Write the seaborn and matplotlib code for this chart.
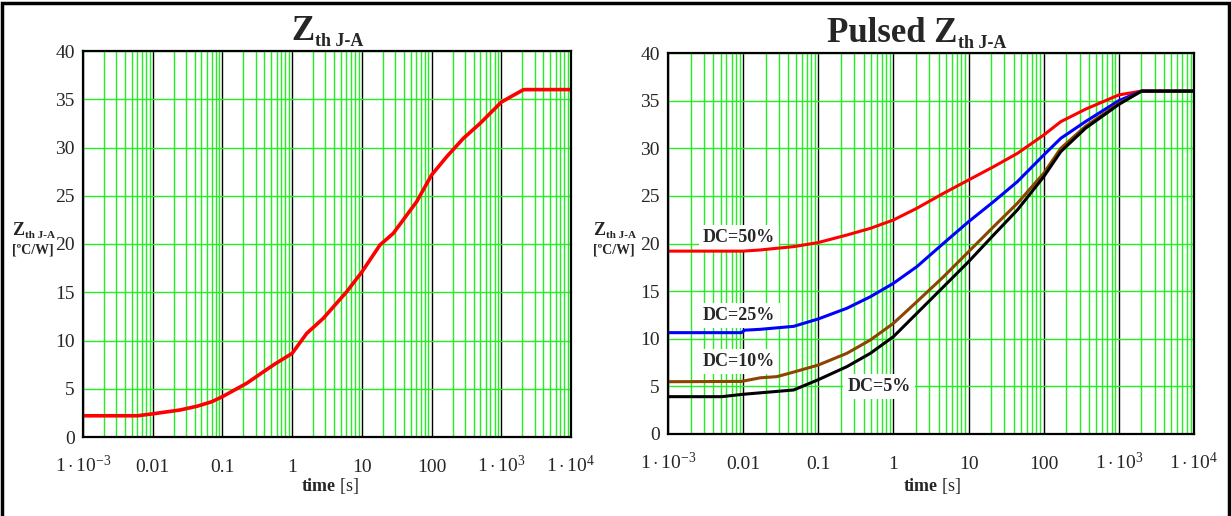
import matplotlib
matplotlib.use('Agg')
import matplotlib.pyplot as plt
from matplotlib.patches import Rectangle
import seaborn as sns
import pandas as pd
import numpy as np

# Zth J-A (single pulse), time in s, Zth in degC/W
t_single = [1e-3, 6e-3, 0.01, 0.0247, 0.044, 0.07, 0.1, 0.222, 0.537, 1, 1.62, 2.8, 6.07, 10,
            18.2, 28.2, 61.3, 100, 165, 286, 497, 1000, 1480, 2100, 1e4]
z_single = [2.2, 2.2, 2.4, 2.8, 3.2, 3.65, 4.18, 5.56, 7.46, 8.67, 10.74, 12.3, 15.06, 17.1,
            19.9, 21.1, 24.4, 27.15, 29.05, 30.95, 32.5, 34.7, 35.4, 36.0, 36.0]

# pulsed Zth J-A for each duty cycle
t_dc50 = [1e-3, 0.01, 0.0169, 0.0281, 0.0469, 0.1, 0.24, 0.493, 1, 2.05, 4.64, 10, 21.5, 44.6,
          100, 168.6, 360, 1000, 2000, 1e4]
z_dc50 = [19.2, 19.2, 19.32, 19.5, 19.67, 20.1, 20.89, 21.59, 22.47, 23.7, 25.27, 26.67, 28.06,
          29.46, 31.39, 32.79, 34.1, 35.6, 36.0, 36.0]

t_dc25 = [1e-3, 0.0095, 0.0105, 0.0169, 0.0469, 0.1, 0.24, 0.493, 1, 2.05, 4.64, 10, 21.5, 44.6,
          100, 168.6, 360, 1000, 2000, 1e4]
z_dc25 = [10.64, 10.64, 10.9, 10.99, 11.3, 12.08, 13.2, 14.41, 15.82, 17.57, 20.02, 22.29, 24.39,
          26.49, 29.29, 31.04, 32.8, 35.0, 36.0, 36.0]

t_dc10 = [1e-3, 0.0095, 0.0169, 0.0281, 0.0469, 0.1, 0.24, 0.493, 1, 2.05, 4.64, 10, 21.5, 44.6,
          100, 168.6, 360, 1000, 2000, 1e4]
z_dc10 = [5.49, 5.52, 5.9, 6.02, 6.5, 7.24, 8.47, 9.87, 11.62, 13.89, 16.51, 19.14, 21.76,
          24.22, 27.37, 29.99, 32.3, 34.7, 36.0, 36.0]

t_dc5 = [1e-3, 5.2e-3, 0.01, 0.0469, 0.1, 0.24, 0.493, 1, 2.05, 4.64, 10, 21.5, 44.6, 100,
         168.6, 360, 1000, 2000, 1e4]
z_dc5 = [3.92, 3.92, 4.17, 4.62, 5.7, 7.07, 8.47, 10.22, 12.67, 15.46, 18.09, 20.89, 23.52,
         27.01, 29.64, 32.1, 34.6, 36.0, 36.0]

dc_names = ['DC=50%', 'DC=25%', 'DC=10%', 'DC=5%']
dc_colors = ['#ff0000', '#0000ff', '#8b4500', '#000000']
# label anchor (time, Zth) for each duty cycle text
dc_label_t = [2.93e-3, 2.93e-3, 2.93e-3, 0.244]
dc_label_z = [20.19, 11.97, 7.14, 4.51]

decades = [1e-3, 1e-2, 1e-1, 1, 10, 100, 1e3, 1e4]
decade_labels = [r'$1\cdot10^{-3}$', '0.01', '0.1', '1', '10', '100',
                 r'$1\cdot10^{3}$', r'$1\cdot10^{4}$']
y_ticks = list(range(0, 41, 5))

sns.set_style('white')
plt.rcParams['font.family'] = ['Liberation Serif', 'DejaVu Serif']
plt.rcParams['mathtext.fontset'] = 'custom'
plt.rcParams['mathtext.rm'] = 'Liberation Serif'
plt.rcParams['mathtext.bf'] = 'Liberation Serif:bold'
plt.rcParams['mathtext.it'] = 'Liberation Serif:italic'

W, H = 1231, 516
green = '#22ee22'


def px_rect(l, t, r, b):
    return [l / W, 1 - b / H, (r - l) / W, (b - t) / H]


def style_axes(ax):
    ax.set_xscale('log')
    ax.set_xlim(1e-3, 1e4)
    ax.set_ylim(0, 40)
    ax.set_xticks(decades)
    ax.set_xticklabels(decade_labels)
    minor = [m * d for d in decades[:-1] for m in range(2, 10)]
    ax.set_xticks(minor, minor=True)
    ax.set_xticklabels([], minor=True)
    ax.set_yticks(y_ticks)
    ax.set_yticklabels([str(v) for v in y_ticks])
    ax.tick_params(which='both', length=0)
    ax.tick_params(axis='x', pad=25, labelsize=14)
    ax.tick_params(axis='y', pad=6, labelsize=14)
    ax.set_axisbelow(True)
    ax.grid(axis='x', which='minor', color=green, lw=1)
    ax.grid(axis='x', which='major', color='black', lw=1)
    ax.grid(axis='y', which='major', color=green, lw=1)
    for s in ax.spines.values():
        s.set_color('black')
        s.set_linewidth(1.6)
    ax.set_xlabel('')
    ax.set_ylabel('')


def sub_title(ax, x, y, main, sub, size, sub_size, dy):
    t = ax.figure.text(x / W, 1 - y / H, main, fontsize=size, fontweight='bold',
                       ha='left', va='baseline')
    ax.annotate(sub, xy=(1, 0), xycoords=t, xytext=(0.5, dy), textcoords='offset points',
                fontsize=sub_size, fontweight='bold', ha='left', va='bottom',
                annotation_clip=False)


fig = plt.figure(figsize=(W / 100, H / 100), dpi=100)
ax1 = fig.add_axes(px_rect(83, 51, 571, 437))
ax2 = fig.add_axes(px_rect(668, 53, 1194, 434))

single = pd.DataFrame({'time': t_single, 'zth': z_single})
sns.lineplot(data=single, x='time', y='zth', ax=ax1, color='#ff0000', lw=2.6, estimator=None)

frames = []
for name, tt, zz in zip(dc_names, [t_dc50, t_dc25, t_dc10, t_dc5], [z_dc50, z_dc25, z_dc10, z_dc5]):
    frames.append(pd.DataFrame({'time': tt, 'zth': zz, 'DC': name}))
pulsed = pd.concat(frames, ignore_index=True)
sns.lineplot(data=pulsed, x='time', y='zth', hue='DC', palette=dict(zip(dc_names, dc_colors)),
             ax=ax2, lw=2.2, estimator=None, legend=False)

style_axes(ax1)
style_axes(ax2)

for name, tx, zy in zip(dc_names, dc_label_t, dc_label_z):
    ax2.text(tx, zy, name, fontsize=13, fontweight='bold', ha='left', va='baseline',
             zorder=1.5, bbox=dict(facecolor='white', edgecolor='none', pad=3))

# titles
sub_title(ax1, 291, 40, 'Z', 'th J-A', 25, 13, -1.5)
sub_title(ax2, 827, 42, 'Pulsed Z', 'th J-A', 25, 13, -1.5)

# y axis labels
for x0 in (12, 593):
    sub_title(ax1, x0, 235, 'Z', 'th J-A', 13, 8, -0.5)
    fig.text(x0 / W, 1 - 254 / H, '[ºC/W]', fontsize=10, fontweight='bold',
             ha='left', va='baseline')

# x axis labels
for xc in (330, 932):
    fig.text(xc / W, 1 - 491 / H, r'$\mathbf{time}$ [s]', fontsize=13,
             ha='center', va='baseline')

fig.add_artist(Rectangle((2.5 / W, -0.02), (1229 - 2.5) / W, 1.02 - 2.5 / H,
                         transform=fig.transFigure, fill=False, edgecolor='black', lw=2.5))

for ax in (ax1, ax2):
    plt.setp(ax.get_xticklabels(), va='baseline')

fig.savefig('out.png', dpi=100)
